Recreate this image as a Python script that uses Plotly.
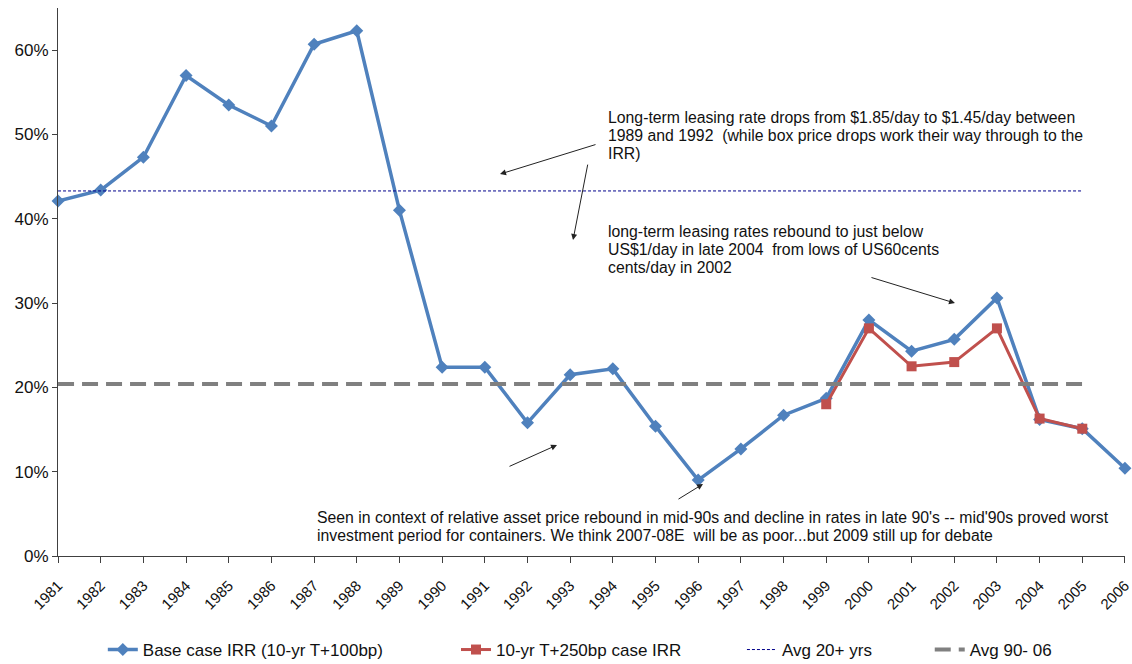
import plotly.graph_objects as go

years = list(range(1981, 2007))
year_labels = [str(y) for y in years]
base_irr = [42.1, 43.4, 47.3, 57.0, 53.5, 51.0, 60.7, 62.3, 41.0, 22.4, 22.4, 15.8, 21.5,
            22.2, 15.4, 9.0, 12.7, 16.7, 18.7, 28.0, 24.3, 25.7, 30.6, 16.2, 15.1, 10.4]
alt_years = list(range(1999, 2006))
alt_irr = [18.0, 27.0, 22.5, 23.0, 27.0, 16.3, 15.1]
avg_years = list(range(1981, 2006))
avg_20 = [43.3] * len(avg_years)
avg_90_06 = [20.4] * len(avg_years)
y_ticks = [0, 10, 20, 30, 40, 50, 60]
y_tick_labels = [f"{v}%" for v in y_ticks]

FONT = "Liberation Sans, Arial, sans-serif"

fig = go.Figure()
fig.add_trace(go.Scatter(x=years, y=base_irr, mode="lines+markers", name="Base case IRR (10-yr T+100bp)",
                         line=dict(color="#4F81BD", width=3.5),
                         marker=dict(symbol="diamond", size=10, color="#4F81BD"),
                         cliponaxis=False, legend="legend"))
fig.add_trace(go.Scatter(x=alt_years, y=alt_irr, mode="lines+markers", name="10-yr T+250bp case IRR",
                         line=dict(color="#C0504D", width=3),
                         marker=dict(symbol="square", size=10, color="#C0504D"),
                         cliponaxis=False, legend="legend2"))
fig.add_trace(go.Scatter(x=avg_years, y=avg_20, mode="lines", name="Avg 20+ yrs",
                         line=dict(color="#00008B", width=1, dash="3px,2px"), legend="legend3"))
fig.add_trace(go.Scatter(x=avg_years, y=avg_90_06, mode="lines", name="Avg 90- 06",
                         line=dict(color="#808080", width=4, dash="16px,8px"), legend="legend4"))

def px2x(px):
    return 1981 + (px - 58) / 42.68

def px2y(py):
    return (556 - py) / 8.433

text_lines = [
    (606, 117, "Long-term leasing rate drops from $1.85/day to $1.45/day between"),
    (606, 135, "1989 and 1992  (while box price drops work their way through to the"),
    (606, 153, "IRR)"),
    (606, 231, "long-term leasing rates rebound to just below"),
    (606, 249, "US$1/day in late 2004  from lows of US60cents"),
    (606, 267, "cents/day in 2002"),
    (315, 517, "Seen in context of relative asset price rebound in mid-90s and decline in rates in late 90's -- mid'90s proved worst"),
    (315, 535, "investment period for containers. We think 2007-08E  will be as poor...but 2009 still up for debate"),
]
for tx, ty, t in text_lines:
    fig.add_annotation(x=px2x(tx), y=px2y(ty), xref="x", yref="y", text=t, showarrow=False,
                       xanchor="left", yanchor="middle", align="left",
                       font=dict(family=FONT, size=15.8, color="#111111"))

arrows = [
    ((597, 144), (500, 174)),
    ((588, 163), (573, 240)),
    ((870, 277), (955, 303)),
    ((508, 467), (557, 445)),
    ((677, 500), (703, 484)),
]
for (tx, ty), (hx, hy) in arrows:
    fig.add_annotation(x=px2x(hx), y=px2y(hy), ax=px2x(tx), ay=px2y(ty), xref="x", yref="y",
                       axref="x", ayref="y", text="", showarrow=True, arrowhead=2,
                       arrowsize=1.2, arrowwidth=1, arrowcolor="#222222")

leg_common = dict(orientation="h", yanchor="middle", y=-0.1715, xanchor="left",
                  font=dict(family=FONT, size=17, color="#111111"), bgcolor="rgba(0,0,0,0)")
fig.update_layout(
    width=1132, height=664,
    margin=dict(l=58, r=7, t=8, b=108, autoexpand=False),
    plot_bgcolor="white", paper_bgcolor="white",
    font=dict(family=FONT, size=15, color="#111111"),
    showlegend=True,
    legend=dict(x=0.042, **leg_common),
    legend2=dict(x=0.373, **leg_common),
    legend3=dict(x=0.641, **leg_common),
    legend4=dict(x=0.817, **leg_common),
    xaxis=dict(range=[1980.999, 2006.001], tickvals=years, ticktext=year_labels, tickangle=-45,
               showgrid=False, zeroline=False, showline=True, linecolor="#404040", linewidth=1,
               ticks="outside", ticklen=6, tickcolor="#404040", ticklabelstandoff=8,
               ticklabeloverflow="allow", automargin=False,
               tickfont=dict(family=FONT, size=15, color="#111111")),
    yaxis=dict(range=[0, 65], tickvals=y_ticks, ticktext=y_tick_labels,
               showgrid=False, zeroline=False, showline=True, linecolor="#404040", linewidth=1,
               ticks="outside", ticklen=5, tickcolor="#404040", automargin=False,
               tickfont=dict(family=FONT, size=17, color="#111111")),
)

fig.write_html("out.html")
